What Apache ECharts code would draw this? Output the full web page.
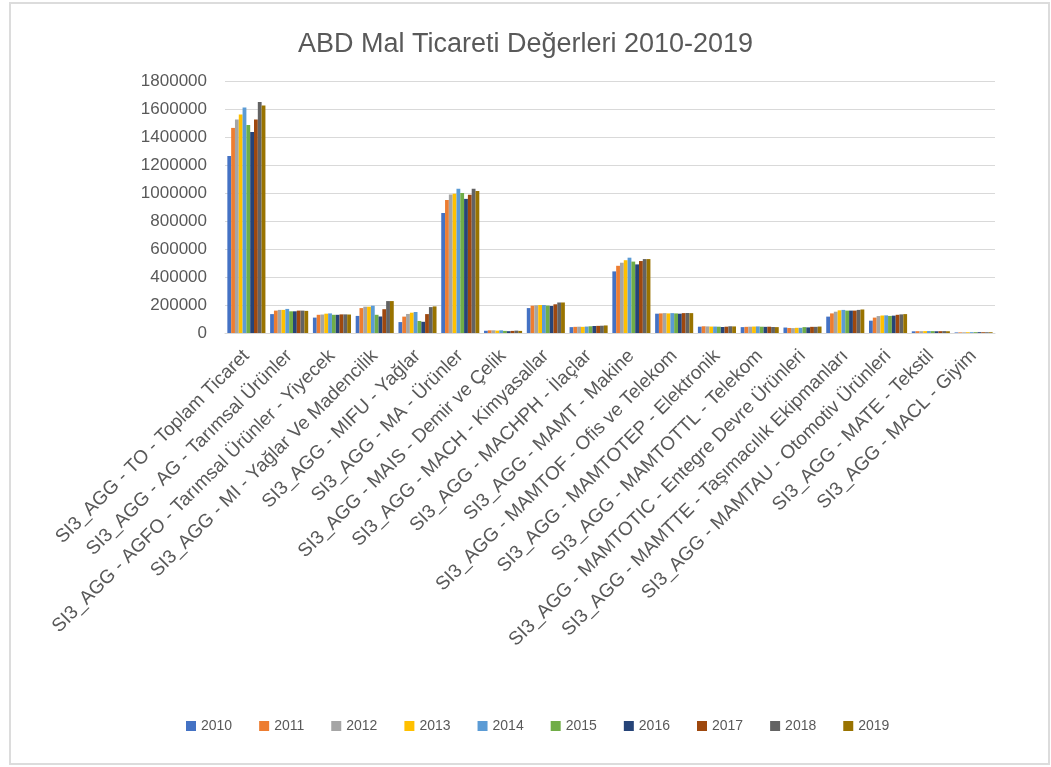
<!DOCTYPE html>
<html>
<head>
<meta charset="utf-8">
<script src="https://cdn.jsdelivr.net/npm/echarts@6/dist/echarts.min.js"></script>
<style>
  html, body { margin: 0; padding: 0; background: #fff; }
  #main { width: 1051px; height: 767px; }
</style>
</head>
<body>
<div id="main"></div>
<script>
// kategoriler
const categories = [
  'SI3_AGG - TO - Toplam Ticaret',
  'SI3_AGG - AG - Tarımsal Ürünler',
  'SI3_AGG - AGFO - Tarımsal Ürünler - Yiyecek',
  'SI3_AGG - MI - Yağlar Ve Madencilik',
  'SI3_AGG - MIFU - Yağlar',
  'SI3_AGG - MA - Ürünler',
  'SI3_AGG - MAIS - Demir ve Çelik',
  'SI3_AGG - MACH - Kimyasallar',
  'SI3_AGG - MACHPH - İlaçlar',
  'SI3_AGG - MAMT - Makine',
  'SI3_AGG - MAMTOF - Ofis ve Telekom',
  'SI3_AGG - MAMTOTEP - Elektronik',
  'SI3_AGG - MAMTOTTL - Telekom',
  'SI3_AGG - MAMTOTIC - Entegre Devre Ürünleri',
  'SI3_AGG - MAMTTE - Taşımacılık Ekipmanları',
  'SI3_AGG - MAMTAU - Otomotiv Ürünleri',
  'SI3_AGG - MATE - Tekstil',
  'SI3_AGG - MACL - Giyim'
]

const years = ['2010', '2011', '2012', '2013', '2014', '2015', '2016', '2017', '2018', '2019']

// her yıl için değerler (kategori sırasıyla)
const v2010 = [1265000, 135000, 110000, 122000, 78000, 857000, 16000, 178000, 42000, 440000, 138000, 45000, 42000, 39000, 117000, 88000, 12000, 4000]
const v2011 = [1465000, 160000, 130000, 178000, 117000, 950000, 19000, 195000, 44000, 480000, 140000, 48000, 44000, 36000, 140000, 110000, 13000, 4500]
const v2012 = [1525000, 165000, 132000, 188000, 136000, 990000, 19000, 198000, 45000, 502000, 142000, 47000, 45000, 35000, 152000, 121000, 13000, 5000]
const v2013 = [1560000, 165000, 138000, 188000, 145000, 995000, 17000, 200000, 44000, 520000, 140000, 46000, 46000, 37000, 162000, 125000, 13500, 5500]
const v2014 = [1610000, 172000, 140000, 195000, 150000, 1030000, 19000, 200000, 46000, 538000, 142000, 46000, 47000, 37000, 165000, 126000, 14000, 6000]
const v2015 = [1485000, 155000, 130000, 130000, 86000, 1000000, 15000, 196000, 48000, 510000, 140000, 45000, 45000, 42000, 160000, 122000, 13500, 6000]
const v2016 = [1435000, 155000, 130000, 118000, 80000, 958000, 13000, 193000, 50000, 490000, 138000, 43000, 44000, 40000, 160000, 124000, 12500, 6000]
const v2017 = [1525000, 160000, 133000, 170000, 135000, 988000, 15000, 205000, 51000, 514000, 142000, 45000, 45000, 44000, 160000, 130000, 13000, 5500]
const v2018 = [1650000, 160000, 133000, 228000, 185000, 1030000, 17000, 218000, 52000, 528000, 143000, 48000, 43000, 44000, 165000, 133000, 13500, 5500]
const v2019 = [1625000, 158000, 132000, 228000, 190000, 1015000, 15000, 218000, 54000, 528000, 142000, 47000, 42000, 46000, 168000, 135000, 12500, 5500]

const values = [v2010, v2011, v2012, v2013, v2014, v2015, v2016, v2017, v2018, v2019]

const yTicks = { min: 0, max: 1800000, interval: 200000 }

const colors = ['#4472C4', '#ED7D31', '#A5A5A5', '#FFC000', '#5B9BD5',
                '#70AD47', '#264478', '#9E480E', '#636363', '#997300']

const textColor = '#595959'
const fontName = '"Liberation Sans", Arial, sans-serif'

const chart = echarts.init(document.getElementById('main'))

const option = {
  color: colors,
  animation: false,
  textStyle: { fontFamily: fontName },
  title: {
    text: 'ABD Mal Ticareti Değerleri 2010-2019',
    left: 'center',
    top: 26,
    textStyle: { color: textColor, fontSize: 27, fontWeight: 'normal', fontFamily: fontName }
  },
  legend: {
    data: years,
    bottom: 29,
    left: 181,
    itemWidth: 10,
    itemHeight: 10,
    itemGap: 27,
    icon: 'rect',
    textStyle: { color: textColor, fontSize: 14, fontFamily: fontName }
  },
  grid: {
    left: 225,
    right: 56,
    top: 81,
    bottom: 434,
    containLabel: false
  },
  xAxis: {
    type: 'category',
    data: categories,
    axisTick: { show: false },
    axisLine: { lineStyle: { color: '#d9d9d9', width: 1 } },
    axisLabel: {
      interval: 0,
      rotate: 45,
      margin: 20,
      color: textColor,
      fontSize: 19,
      fontFamily: fontName
    }
  },
  yAxis: {
    type: 'value',
    min: yTicks.min,
    max: yTicks.max,
    interval: yTicks.interval,
    axisLine: { show: false },
    axisTick: { show: false },
    splitLine: { lineStyle: { color: '#d9d9d9', width: 1 } },
    axisLabel: {
      margin: 18,
      color: textColor,
      fontSize: 17,
      fontFamily: fontName,
      formatter: v => String(v)
    }
  },
  graphic: [{
    type: 'rect',
    shape: { x: 10, y: 3, width: 1039, height: 761 },
    style: { fill: 'none', stroke: '#dcdcdc', lineWidth: 2 },
    silent: true
  }],
  series: years.map((y, i) => ({
    name: y,
    type: 'bar',
    data: values[i],
    barGap: '0%',
    barCategoryGap: '11%'
  }))
}

chart.setOption(option)
</script>
</body>
</html>
